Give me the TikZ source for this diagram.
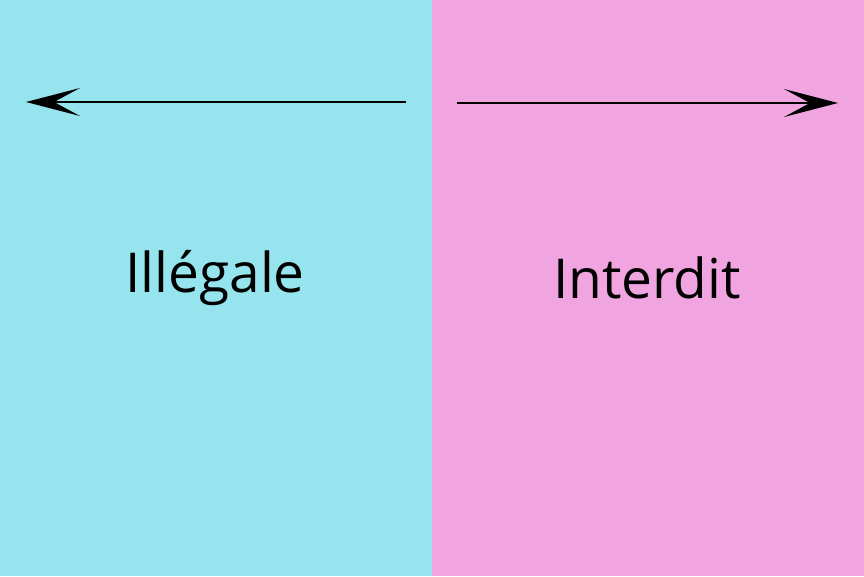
\documentclass[tikz,border=0pt]{standalone}
\usepackage{fontspec}
\setmainfont{Open Sans}
\usetikzlibrary{arrows.meta}
\definecolor{cyanbg}{HTML}{95E4EE}
\definecolor{pinkbg}{HTML}{F0A5E1}
\tikzset{
  panel/.style={draw=none},
  arr/.style={line width=2.6pt,-{Stealth[length=54pt,width=28pt,inset=26pt]}},
  lbl/.style={font=\fontsize{55}{66}\selectfont, text=black, inner sep=0pt, anchor=base}
}
\begin{document}
\begin{tikzpicture}[x=1pt,y=1pt]
\useasboundingbox (0,0) rectangle (864,576);
\fill[cyanbg] (0,0) rectangle (432,576);
\fill[pinkbg] (432,0) rectangle (864,576);
\coordinate (ls) at (406,474);
\coordinate (le) at (26,474);
\coordinate (rs) at (457,473);
\coordinate (re) at (838,473);
\draw[arr] (ls) -- (le);
\draw[arr] (rs) -- (re);
\node[lbl] (ill) at (215,283) {Illégale};
\node[lbl] (int) at (647,277) {Interdit};
\end{tikzpicture}
\end{document}
